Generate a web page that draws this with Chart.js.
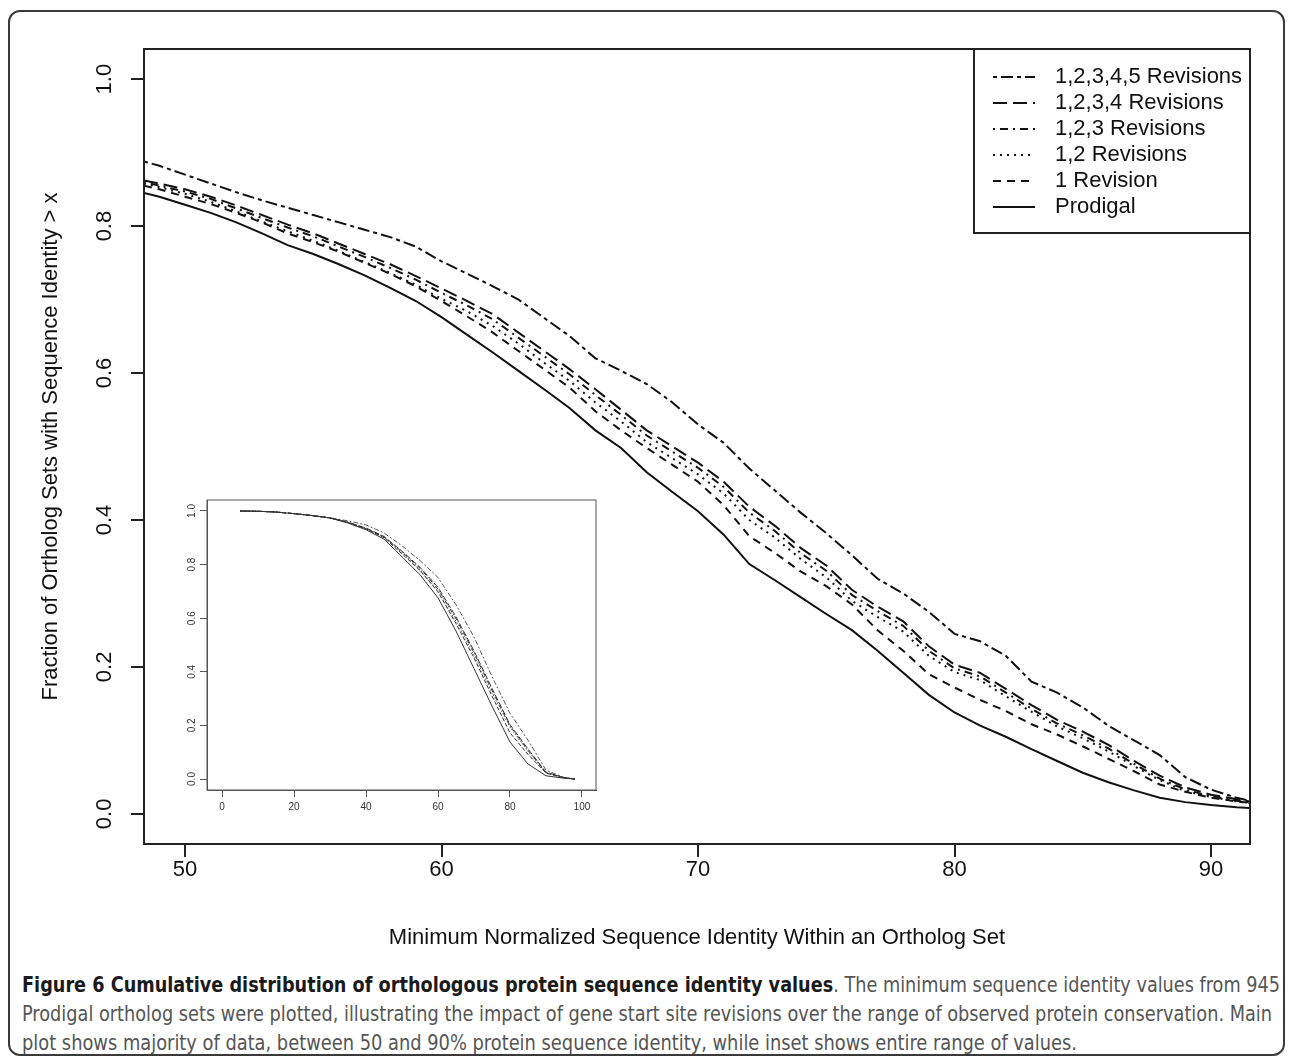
<!DOCTYPE html>
<html>
<head>
<meta charset="utf-8">
<script src="https://cdn.jsdelivr.net/npm/chart.js@4.4.0/dist/chart.umd.min.js"></script>
<style>
  html, body { margin: 0; padding: 0; background: #fff; }
  body { width: 1290px; height: 1063px; position: relative; overflow: hidden; }
  #frame { position: absolute; left: 8px; top: 10px; width: 1277px; height: 1046px;
           border: 2px solid #3a3a3a; border-radius: 12px; box-sizing: border-box; }
  #main { position: absolute; left: 0; top: 0; }
  #inset { position: absolute; left: 170px; top: 480px; }
  .cap { position: absolute; left: 22px; white-space: nowrap; font-size: 21px; line-height: 29px;
         font-family: "Liberation Sans Narrow", "DejaVu Sans Condensed", "Open Sans", sans-serif;
         font-stretch: condensed; color: #555; transform-origin: 0 50%; }
  .cap b { color: #1a1a1a; }
</style>
</head>
<body>
<div id="frame"></div>
<canvas id="main" width="1290" height="960"></canvas>
<canvas id="inset" width="440" height="340"></canvas>
<div class="cap" id="c1" style="top:971px"><b>Figure 6 Cumulative distribution of orthologous protein sequence identity values</b>. The minimum sequence identity values from 945</div>
<div class="cap" id="c2" style="top:1000px">Prodigal ortholog sets were plotted, illustrating the impact of gene start site revisions over the range of observed protein conservation. Main</div>
<div class="cap" id="c3" style="top:1029px">plot shows majority of data, between 50 and 90% protein sequence identity, while inset shows entire range of values.</div>
<script>
// ---------- main plot data ----------
const xMain = [48.4, 49, 50, 51, 52, 53, 54, 55, 56, 57, 58, 59, 60, 61, 62, 63, 64, 65, 66, 67, 68, 69, 70,
               71, 72, 73, 74, 75, 76, 77, 78, 79, 80, 81, 82, 83, 84, 85, 86, 87, 88, 89, 90, 91, 91.5];
const prodigal = [.845, .840, .829, .818, .805, .790, .774, .762, .748, .733, .716, .698, .676, .652, .628, .603, .578, .552, .522, .498, .465, .438, .412,
                  .380, .340, .318, .295, .272, .250, .222, .192, .162, .138, .120, .105, .088, .072, .056, .043, .032, .022, .016, .012, .009, .008];
const rev1 = [.855, .850, .840, .830, .818, .805, .790, .778, .765, .750, .735, .718, .698, .677, .655, .630, .605, .580, .548, .522, .498, .475, .452,
              .420, .378, .355, .330, .310, .285, .250, .222, .190, .172, .155, .140, .122, .108, .092, .075, .058, .040, .030, .022, .017, .015];
const rev12 = [.858, .853, .844, .833, .820, .806, .793, .780, .766, .751, .736, .720, .701, .684, .664, .640, .614, .589, .560, .534, .506, .484, .462,
               .436, .400, .376, .347, .322, .290, .268, .248, .215, .193, .182, .160, .139, .119, .103, .085, .065, .046, .031, .023, .017, .015];
const rev123 = [.860, .855, .847, .837, .824, .811, .798, .786, .772, .758, .743, .727, .709, .692, .673, .648, .623, .598, .570, .543, .515, .493, .471,
                .445, .410, .385, .355, .331, .298, .276, .256, .222, .198, .187, .165, .143, .123, .107, .089, .068, .048, .033, .024, .018, .016];
const rev1234 = [.862, .858, .850, .840, .828, .815, .802, .790, .776, .762, .748, .732, .715, .698, .680, .655, .630, .605, .578, .550, .522, .500, .478,
                 .452, .418, .392, .362, .338, .305, .282, .262, .228, .203, .192, .170, .148, .128, .112, .094, .072, .052, .036, .026, .020, .017];
const rev12345 = [.888, .882, .870, .858, .846, .835, .825, .815, .805, .795, .785, .772, .752, .735, .718, .700, .675, .650, .620, .603, .585, .560, .530,
                  .505, .470, .440, .410, .382, .352, .320, .300, .275, .245, .235, .215, .180, .165, .145, .120, .100, .080, .050, .033, .022, .018];
const xTicksMain = [50, 60, 70, 80, 90];
const yTicks = [0, 0.2, 0.4, 0.6, 0.8, 1.0];
const seriesLabels = ['Prodigal', '1 Revision', '1,2 Revisions', '1,2,3 Revisions', '1,2,3,4 Revisions', '1,2,3,4,5 Revisions'];

// ---------- inset data ----------
const xInset = [5, 10, 15, 20, 25, 30, 35, 40, 45, 50, 55, 60, 65, 70, 75, 80, 85, 90, 95, 98];
const insetProdigal = [1.000, .999, .996, .990, .983, .974, .955, .930, .895, .829, .762, .676, .552, .412, .272, .138, .056, .012, .003, .000];
const insetRev1 = [1.000, .999, .996, .990, .983, .974, .957, .933, .900, .840, .778, .698, .580, .452, .310, .172, .092, .022, .004, .000];
const insetRev12 = [1.000, .999, .996, .990, .983, .974, .957, .934, .902, .844, .780, .701, .589, .462, .322, .193, .103, .023, .004, .000];
const insetRev123 = [1.000, .999, .996, .990, .983, .974, .958, .935, .904, .847, .786, .709, .598, .471, .331, .198, .107, .024, .005, .000];
const insetRev1234 = [1.000, .999, .996, .990, .983, .974, .958, .936, .905, .850, .790, .715, .605, .478, .338, .203, .112, .026, .005, .000];
const insetRev12345 = [1.000, .999, .996, .990, .983, .975, .963, .948, .918, .870, .815, .752, .650, .530, .382, .245, .145, .033, .006, .000];
const xTicksInset = [0, 20, 40, 60, 80, 100];

// ---------- styles ----------
const FONT = "'Liberation Sans', Arial, Helvetica, sans-serif";
const FS = 22;
const mainDashes = [[], [8, 6], [2, 5], [2, 5, 8, 5], [14, 6], [4, 4, 12, 4]];
const insetDashes = [[], [4, 2], [1, 2], [1, 2, 4, 2], [6, 2], [2, 2, 5, 2]];
const legendOrder = [5, 4, 3, 2, 1, 0];

const toPts = (xs, ys) => xs.map((x, i) => ({x: x, y: ys[i]}));
const mainSeries = [prodigal, rev1, rev12, rev123, rev1234, rev12345];
const insetSeries = [insetProdigal, insetRev1, insetRev12, insetRev123, insetRev1234, insetRev12345];

const boxPlugin = {
  id: 'plotBox',
  afterDatasetsDraw(chart, args, opts) {
    const {ctx, chartArea: a} = chart;
    ctx.save();
    ctx.strokeStyle = opts.color; ctx.lineWidth = opts.width;
    ctx.strokeRect(a.left, a.top, a.right - a.left, a.bottom - a.top);
    ctx.restore();
  }
};

const legendPlugin = {
  id: 'boxLegend',
  afterDraw(chart, args, opts) {
    if (!opts.show) return;
    const {ctx, chartArea: a} = chart;
    const w = 276, h = 184;
    const x0 = a.right - w, y0 = a.top;
    ctx.save();
    ctx.fillStyle = '#fff'; ctx.fillRect(x0, y0, w, h);
    ctx.strokeStyle = '#222'; ctx.lineWidth = 2; ctx.strokeRect(x0, y0, w, h);
    ctx.font = FS + 'px ' + FONT;
    ctx.textBaseline = 'middle'; ctx.textAlign = 'left';
    legendOrder.forEach((idx, i) => {
      const ds = chart.data.datasets[idx];
      const y = y0 + 28 + i * 26;
      ctx.setLineDash(ds.borderDash || []);
      ctx.lineWidth = 2; ctx.strokeStyle = ds.borderColor;
      ctx.beginPath(); ctx.moveTo(x0 + 19, y); ctx.lineTo(x0 + 61, y); ctx.stroke();
      ctx.setLineDash([]);
      ctx.fillStyle = '#111';
      ctx.fillText(ds.label, x0 + 81, y);
    });
    ctx.restore();
  }
};

// ---------- main chart ----------
new Chart(document.getElementById('main'), {
  type: 'line',
  data: {
    datasets: mainSeries.map((ys, i) => ({
      label: seriesLabels[i],
      data: toPts(xMain, ys),
      borderColor: '#111',
      borderWidth: 2,
      borderDash: mainDashes[i],
      pointRadius: 0,
      tension: 0,
      fill: false
    }))
  },
  plugins: [boxPlugin, legendPlugin],
  options: {
    responsive: false,
    devicePixelRatio: 1,
    animation: false,
    layout: { padding: { left: 0, top: 49, right: 40, bottom: 6 } },
    plugins: {
      legend: { display: false },
      tooltip: { enabled: false },
      plotBox: { color: '#222', width: 2 },
      boxLegend: { show: true }
    },
    scales: {
      x: {
        type: 'linear', min: 48.4, max: 91.52,
        afterBuildTicks: s => { s.ticks = xTicksMain.map(v => ({value: v})); },
        afterFit: s => { s.height = 110; },
        grid: { display: true, drawOnChartArea: false, drawTicks: true, tickLength: 13, color: '#222', lineWidth: 2 },
        border: { display: true, color: '#222', width: 2 },
        ticks: { padding: 0, color: '#111', font: { family: FONT, size: FS }, maxRotation: 0, autoSkip: false },
        title: { display: true, text: 'Minimum Normalized Sequence Identity Within an Ortholog Set',
                 color: '#111', font: { family: FONT, size: FS }, padding: { top: 0, bottom: 3 } }
      },
      y: {
        type: 'linear', min: -0.041, max: 1.041,
        afterBuildTicks: s => { s.ticks = yTicks.map(v => ({value: v})); },
        afterFit: s => { s.width = 144; },
        grid: { display: true, drawOnChartArea: false, drawTicks: true, tickLength: 13, color: '#222', lineWidth: 2 },
        border: { display: true, color: '#222', width: 2 },
        ticks: { padding: 11, crossAlign: 'center', minRotation: 90, maxRotation: 90, color: '#111',
                 font: { family: FONT, size: FS }, callback: v => Number(v).toFixed(1), autoSkip: false },
        title: { display: true, text: 'Fraction of Ortholog Sets with Sequence Identity > x',
                 color: '#111', font: { family: FONT, size: FS }, padding: { top: 38, bottom: 0 } }
      }
    }
  }
});

// ---------- inset chart ----------
new Chart(document.getElementById('inset'), {
  type: 'line',
  data: {
    datasets: insetSeries.map((ys, i) => ({
      label: seriesLabels[i],
      data: toPts(xInset, ys),
      borderColor: i === 5 ? '#555' : '#333',
      borderWidth: 1,
      borderDash: insetDashes[i],
      pointRadius: 0,
      tension: 0,
      fill: false
    }))
  },
  plugins: [boxPlugin],
  options: {
    responsive: false,
    devicePixelRatio: 1,
    animation: false,
    layout: { padding: { left: 0, top: 20, right: 14, bottom: 0 } },
    plugins: {
      legend: { display: false },
      tooltip: { enabled: false },
      plotBox: { color: '#555', width: 1 }
    },
    scales: {
      x: {
        type: 'linear', min: -4.2, max: 103.9,
        afterBuildTicks: s => { s.ticks = xTicksInset.map(v => ({value: v})); },
        afterFit: s => { s.height = 30; },
        grid: { display: true, drawOnChartArea: false, drawTicks: true, tickLength: 7, color: '#555', lineWidth: 1 },
        border: { display: true, color: '#555', width: 1 },
        ticks: { padding: 4, color: '#333', font: { family: FONT, size: 10 }, maxRotation: 0, autoSkip: false }
      },
      y: {
        type: 'linear', min: -0.041, max: 1.041,
        afterBuildTicks: s => { s.ticks = yTicks.map(v => ({value: v})); },
        afterFit: s => { s.width = 37; },
        grid: { display: true, drawOnChartArea: false, drawTicks: true, tickLength: 7, color: '#555', lineWidth: 1 },
        border: { display: true, color: '#555', width: 1 },
        ticks: { padding: 1, crossAlign: 'center', minRotation: 90, maxRotation: 90, color: '#333',
                 font: { family: FONT, size: 10 }, callback: v => Number(v).toFixed(1), autoSkip: false }
      }
    }
  }
});

// ---------- caption fitting ----------
function fitLine(id, target) {
  const el = document.getElementById(id);
  const w = el.getBoundingClientRect().width;
  if (w > 0) el.style.transform = 'scaleX(' + (target / w) + ')';
}
fitLine('c1', 1258);
fitLine('c2', 1250);
fitLine('c3', 1055);
</script>
</body>
</html>
